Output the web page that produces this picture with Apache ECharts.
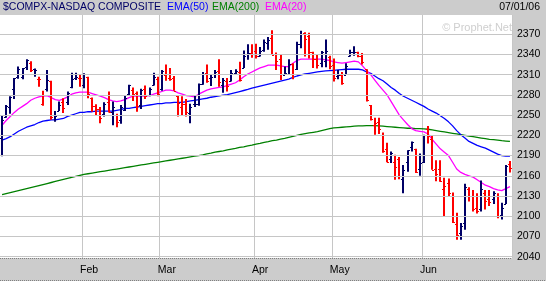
<!DOCTYPE html>
<html><head><meta charset="utf-8">
<script src="https://cdn.jsdelivr.net/npm/echarts@6/dist/echarts.min.js"></script>
<style>html,body{margin:0;padding:0;background:#cccccc;}#c{width:546px;height:281px;}</style>
</head><body><div id="c"></div>
<script>
const dates = [
'01/03','01/04','01/05','01/06','01/09','01/10','01/11','01/12','01/13','01/17','01/18','01/19','01/20','01/23','01/24','01/25','01/26','01/27','01/30','01/31',
'02/01','02/02','02/03','02/06','02/07','02/08','02/09','02/10','02/13','02/14','02/15','02/16','02/17','02/21','02/22','02/23','02/24','02/27','02/28',
'03/01','03/02','03/03','03/06','03/07','03/08','03/09','03/10','03/13','03/14','03/15','03/16','03/17','03/20','03/21','03/22','03/23','03/24','03/27','03/28','03/29','03/30','03/31',
'04/03','04/04','04/05','04/06','04/07','04/10','04/11','04/12','04/13','04/17','04/18','04/19','04/20','04/21','04/24','04/25','04/26','04/27','04/28',
'05/01','05/02','05/03','05/04','05/05','05/08','05/09','05/10','05/11','05/12','05/15','05/16','05/17','05/18','05/19','05/22','05/23','05/24','05/25','05/26','05/30','05/31',
'06/01','06/02','06/05','06/06','06/07','06/08','06/09','06/12','06/13','06/14','06/15','06/16','06/19','06/20','06/21','06/22','06/23','06/26','06/27','06/28','06/29','06/30'];
const monthNames = ['Jan','Feb','Mar','Apr','May','Jun'];
const opens = [
2216,2247,2262,2289,2306,2306,2321,2328,2318,2304,2266,2288,2300,2250,2256,2270,2270,2292,2305,2305,
2295,2307,2275,2263,2259,2252,2270,2255,2250,2242,2258,2281,2287,2283,2265,2288,2280,2295,2303,
2288,2309,2305,2305,2278,2262,2266,2253,2266,2267,2296,2313,2305,2311,2316,2294,2300,2300,2312,2314,2320,2341,2342,
2345,2337,2347,2357,2365,2340,2333,2310,2311,2326,2318,2356,2372,2367,2343,2333,2327,2330,2336,
2325,2308,2310,2310,2338,2343,2343,2338,2318,2265,2235,2240,2220,2200,2185,2180,2185,2155,2180,2203,2199,2170,
2180,2230,2215,2170,2170,2140,2150,2130,2088,2075,2090,2140,2130,2112,2110,2135,2125,2125,2130,2102,2118,2177];
const highs = [
2249,2265,2278,2305,2322,2320,2333,2330,2319,2307,2286,2317,2301,2256,2270,2275,2285,2313,2313,2311,
2312,2307,2276,2266,2262,2269,2285,2270,2252,2265,2280,2295,2291,2285,2289,2294,2291,2313,2307,
2317,2325,2320,2308,2280,2278,2274,2267,2279,2297,2314,2325,2311,2317,2333,2305,2305,2317,2318,2329,2346,2355,2355,
2356,2351,2362,2366,2376,2343,2339,2322,2333,2327,2359,2375,2373,2372,2344,2340,2345,2362,2338,
2334,2317,2314,2327,2347,2352,2344,2342,2318,2265,2246,2246,2224,2209,2196,2191,2188,2176,2198,2211,2200,2193,
2221,2234,2219,2183,2183,2157,2156,2135,2105,2090,2148,2143,2139,2134,2153,2139,2139,2137,2134,2120,2176,2182];
const lows = [
2189,2246,2252,2274,2304,2303,2317,2314,2307,2292,2264,2285,2243,2240,2256,2253,2265,2290,2302,2292,
2290,2275,2255,2250,2238,2248,2254,2235,2232,2237,2256,2279,2271,2255,2259,2274,2278,2294,2278,
2286,2301,2301,2286,2248,2249,2248,2238,2262,2264,2295,2298,2293,2305,2292,2283,2285,2300,2310,2300,2320,2332,2335,
2334,2337,2344,2347,2339,2317,2302,2310,2310,2303,2317,2349,2337,2334,2320,2319,2321,2321,2318,
2300,2303,2295,2310,2337,2338,2336,2325,2270,2242,2221,2222,2194,2180,2179,2154,2155,2134,2166,2196,2164,2160,
2179,2208,2169,2152,2151,2099,2130,2090,2065,2065,2080,2122,2107,2104,2107,2110,2115,2118,2097,2095,2118,2165];
const closes = [
2243,2263,2277,2305,2318,2320,2331,2317,2317,2303,2280,2302,2247.7,2248.5,2265,2261,2283,2304,2307,2305,
2311,2282,2263,2259,2245,2267,2255,2262,2240,2262,2276,2294,2282,2263,2287,2279,2289,2307,2281,
2315,2311,2303,2286,2268,2266,2255,2262,2267,2296,2311,2300,2306,2314,2299,2302,2293,2313,2315,2302,2338,2342,2340,
2337,2345,2359,2361,2339,2330,2311,2312,2326,2311,2356,2371,2363,2343,2333,2325,2344,2345,2323,
2305,2310,2298,2323,2343,2344,2338,2329,2273,2244,2238,2229,2196,2180,2194,2173,2159,2169,2198,2210,2165,2179,
2220,2219,2169,2163,2152,2145,2135,2091,2072,2086,2144,2130,2110,2107,2141,2123,2121,2134,2100,2112,2174,2172];
const prevCloseBeforeStart = 2205;
const ema20 = [
2235,2242,2248,2254,2259,2263,2267,2272,2275,2277,2278,2279,2276,2273,2272,2274,2277,2281,2283,2284,2284,2284,2282,2280,2278,
2276,2273,2271,2270,2271,2273,2276,2278,2278,2278,2278,2279,2281,2283,2285,2287,2287,2286,2283,2281,2279,2278,2277,
2281,2284,2287,2289,2290,2291,2292,2294,2296,2298,2302,2307,2311,2314,2317,2320,2322,2324,2324,2324,2323,2322,2322,
2327,2331,2333,2333,2333,2333,2333,2333,2332,2331,2329,2328,2327,2328,2329,2330,2329,2323,2316,2310,2302,2294,2287,2280,2270,2260,2250,
2243,2236,2230,2227,2226,2225,2222,2214,2207,2200,2195,2190,2180,2170,2165,2162,2160,2158,2154,2150,2146,2144,2141,2139,2138,2141,2144];
const ema50 = [
2213,2215,2218,2222,2226,2229,2232,2234,2236,2239,2241,2242,2243,2243,2244,2245,2248,2250,2252,2254,2254,2255,2255,2256,2256,
2256,2256,2256,2257,2258,2260,2260,2261,2262,2263,2264,2265,2266,2267,2267,2268,2268,2269,2269,2269,2270,2271,2272,
2273,2274,2275,2276.5,2277.5,2278.5,2279.5,2280.5,2282,2283.5,2285,2286.5,2288,2290,2291.5,2293,2294.5,2296,2297.5,2299,2300.5,2302,2303.5,
2306,2308,2309.5,2311,2312,2313,2314,2315,2315.5,2316,2316.5,2317,2317.5,2318,2318,2318,2318,2317,2314,2312,2308,2304,2301,2296,2291,2287,2282,2278,2275,
2272,2269,2266,2263,2259,2256,2253,2249,2245,2240,2234,2227,2221,2216,2211,2208,2205,2203,2201,2198,2195,2192,2190,2189,2189];
const ema200 = [
2132,2133.5,2135,2136.5,2138,2139.5,2141,2142.5,2144,2145.5,2147,2148.5,2150,2151.5,2153,2154.5,2156,2157.5,2159,2160.5,2162,
2163,2164,2165,2166,2167,2168,2169,2170,2171,2172,2173,2174,2175,2176,2177,2178,2179,2180,2181,2182,2183,2184,2185,2186,2187,2188,2189,
2190,2191,2192.5,2193.5,2195,2196,2197,2198.5,2199.5,2200.5,2202,2203,2204.5,2205.5,2207,2208,2209.5,2210.5,2212,2213,2214.5,2215.5,2217,2218.5,2220,2221.5,2222.5,2223.5,2224.5,2225.5,2227,2228.5,2230,
2231,2231.5,2232,2232.5,2233,2233.5,2234,2234,2234.5,2234.5,2234.5,2234,2233.5,2233,2232.5,2232,2231.5,2231,2230.5,2230.5,2230,2230,2229.5,2229,2228,2227,2226,2225,2224,2223,2222,2221,2220,2219,2218,2217,2216,2215,2214,2213.5,2213,2212,2211.5,2211];
const yTicks = [2040,2070,2100,2130,2160,2190,2220,2250,2280,2310,2340,2370];

const NAVY = '#000066', RED = '#ff0000';
const monthStart = dates.map((d, i) => i > 0 && d.slice(0,2) !== dates[i-1].slice(0,2));
const ohlc = dates.map((d, i) => {
  const prev = i === 0 ? prevCloseBeforeStart : closes[i-1];
  return [i, opens[i], highs[i], lows[i], closes[i], closes[i] < prev ? 1 : 0];
});

function renderItem(params, api) {
  const i = api.value(0);
  const pO = api.coord([i, api.value(1)]);
  const pH = api.coord([i, api.value(2)]);
  const pL = api.coord([i, api.value(3)]);
  const pC = api.coord([i, api.value(4)]);
  const col = api.value(5) ? RED : NAVY;
  const x = Math.round(pO[0]);
  const yo = Math.round(pO[1]) + 0.5, yc = Math.round(pC[1]) + 0.5;
  return {type: 'group', children: [
    {type: 'line', shape: {x1: x, y1: pH[1], x2: x, y2: pL[1]}, style: {stroke: col, lineWidth: 2}},
    {type: 'line', shape: {x1: x - 2, y1: yo, x2: x, y2: yo}, style: {stroke: col, lineWidth: 1}},
    {type: 'line', shape: {x1: x, y1: yc, x2: x + 2, y2: yc}, style: {stroke: col, lineWidth: 1}}
  ]};
}

const FONT = 'Liberation Sans, Arial, sans-serif';
const FS = 10.5;
const chart = echarts.init(document.getElementById('c'), null, {renderer: 'canvas'});
chart.setOption({
  backgroundColor: '#cccccc',
  animation: false,
  grid: {left: 0, right: 34, top: 15, bottom: 23, show: true, backgroundColor: '#ffffff', borderWidth: 0},
  xAxis: {
    type: 'category', data: dates, boundaryGap: true,
    axisLine: {show: false}, axisTick: {show: false},
    axisLabel: {
      interval: (idx) => monthStart[idx],
      formatter: (v) => monthNames[parseInt(v.slice(0,2), 10) - 1],
      align: 'left', margin: 7, padding: [0, 0, 0, -4], color: '#000', fontSize: FS, fontFamily: FONT
    },
    splitLine: {show: true, interval: (idx) => monthStart[idx], lineStyle: {color: '#c6c6c6', width: 1}}
  },
  yAxis: {
    type: 'value', position: 'right', min: 2038, max: 2398.5, scale: true,
    axisLine: {show: false},
    axisTick: {show: false, customValues: yTicks},
    axisLabel: {customValues: yTicks, formatter: (v) => String(v), margin: 5, color: '#000', fontSize: FS, fontFamily: FONT},
    splitLine: {show: false}
  },
  series: [
    {type: 'line', data: [], silent: true, z: 1,
     markLine: {silent: true, symbol: ['none','none'], label: {show: false},
       lineStyle: {color: '#c6c6c6', type: 'solid', width: 1},
       data: yTicks.map(v => ({yAxis: v}))}},
    {name: 'EMA(200)', type: 'line', data: ema200, showSymbol: false, z: 2, lineStyle: {color: '#008000', width: 1.3}},
    {name: 'EMA(50)', type: 'line', data: ema50, showSymbol: false, z: 2, lineStyle: {color: '#0000ff', width: 1.3}},
    {name: 'EMA(20)', type: 'line', data: ema20, showSymbol: false, z: 2, lineStyle: {color: '#ff00ff', width: 1.3}},
    {name: 'OHLC', type: 'custom', renderItem: renderItem, data: ohlc, z: 3,
     encode: {x: 0, y: [1, 2, 3, 4]}, clip: true}
  ],
  graphic: [
    {type: 'text', left: 3, top: 2, style: {text: '$COMPX-NASDAQ COMPOSITE', fill: '#000066', font: FS + 'px ' + FONT}},
    {type: 'text', left: 167, top: 2, style: {text: 'EMA(50)', fill: '#0000ff', font: FS + 'px ' + FONT}},
    {type: 'text', left: 212, top: 2, style: {text: 'EMA(200)', fill: '#008000', font: FS + 'px ' + FONT}},
    {type: 'text', left: 265, top: 2, style: {text: 'EMA(20)', fill: '#ff00ff', font: FS + 'px ' + FONT}},
    {type: 'text', right: 6, top: 2, style: {text: '07/01/06', fill: '#000000', font: FS + 'px ' + FONT}},
    {type: 'text', right: 34, top: 22, z: 0, style: {text: '\u00a9 Prophet.Net', fill: '#cfcfcf', font: '11px ' + FONT}},
    {type: 'line', shape: {x1: 512.5, y1: 15, x2: 512.5, y2: 259}, style: {stroke: '#808080', lineWidth: 1, lineDash: [1, 1]}},
    {type: 'line', shape: {x1: 0, y1: 258.5, x2: 512, y2: 258.5}, style: {stroke: '#808080', lineWidth: 1, lineDash: [1, 1]}},
    {type: 'line', shape: {x1: 0, y1: 280.5, x2: 546, y2: 280.5}, style: {stroke: '#808080', lineWidth: 1, lineDash: [1, 1]}}
  ]
});
</script></body></html>
